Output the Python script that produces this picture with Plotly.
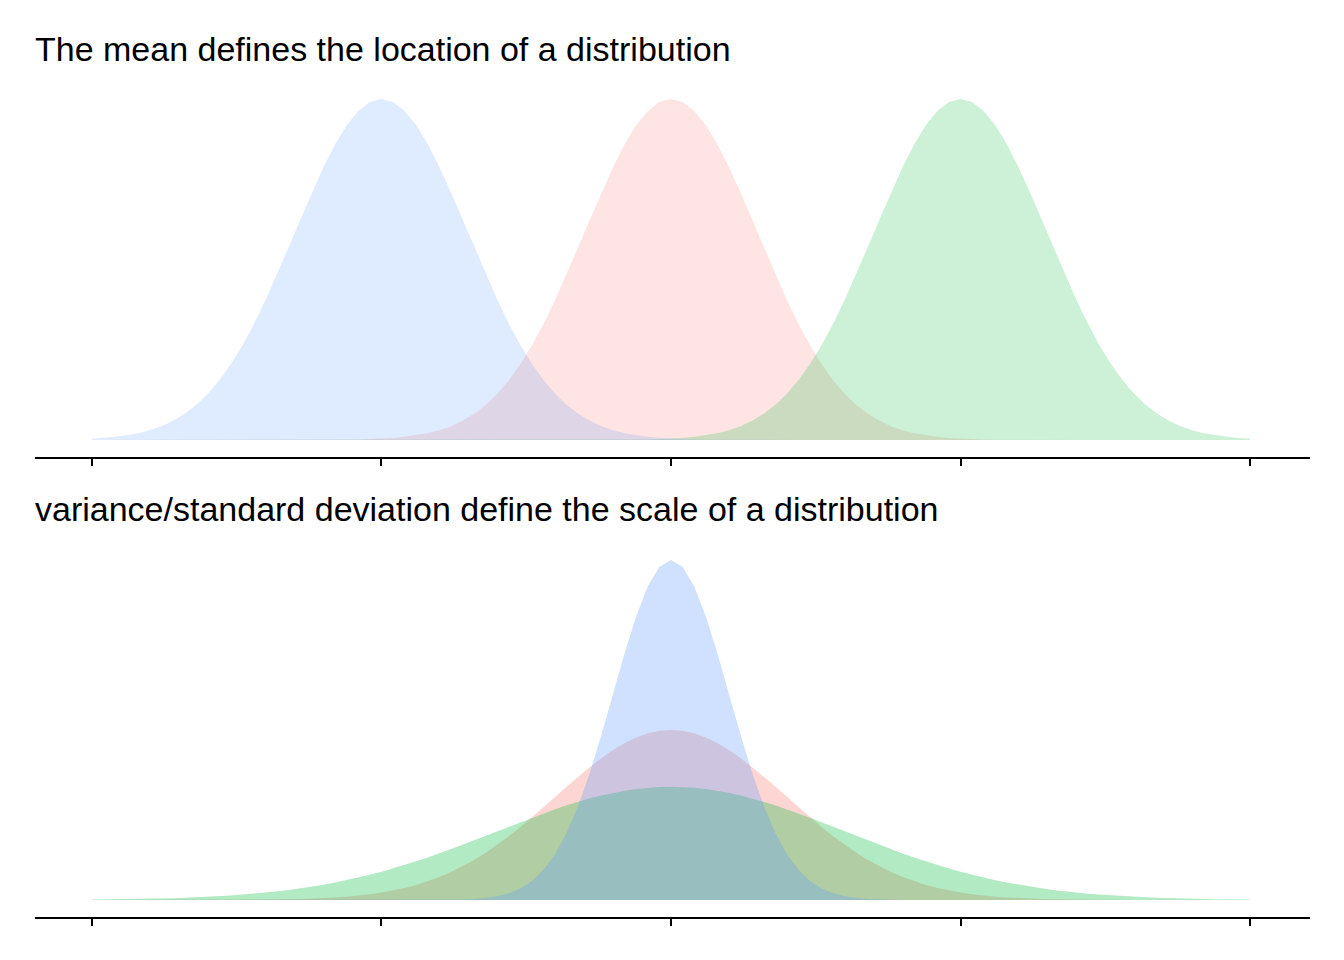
import numpy as np
import plotly.graph_objects as go

# ---- data ----
x_min, x_max, n_points = -10, 10, 101
tick_values = [-10, -5, 0, 5, 10]

top_title = "The mean defines the location of a distribution"
top_means = [-5, 0, 5]
top_sds = [1.5, 1.5, 1.5]
top_colors = ["rgba(97,156,255,0.2)", "rgba(248,118,109,0.2)", "rgba(0,186,56,0.2)"]

bottom_title = "variance/standard deviation define the scale of a distribution"
bottom_means = [0, 0, 0]
bottom_sds = [1, 2, 3]
bottom_colors = ["rgba(97,156,255,0.3)", "rgba(248,118,109,0.3)", "rgba(0,186,56,0.3)"]

draw_order = [1, 2, 0]  # red, green, blue


def dnorm(x, m, s):
    return np.exp(-0.5 * ((x - m) / s) ** 2) / (s * np.sqrt(2 * np.pi))


xs = np.linspace(x_min, x_max, n_points)

OFF = 8  # page body margin
W, H = 1344 - OFF, 960 - OFF
fig = go.Figure()

panels = [
    dict(means=top_means, sds=top_sds, colors=top_colors, xa="x", ya="y",
         top=82, bottom=457, title=top_title, title_y=49),
    dict(means=bottom_means, sds=bottom_sds, colors=bottom_colors, xa="x2", ya="y2",
         top=543, bottom=917, title=bottom_title, title_y=509),
]

for p in panels:
    peak = 0
    for i in draw_order:
        ys = dnorm(xs, p["means"][i], p["sds"][i])
        peak = max(peak, ys.max())
        fig.add_trace(go.Scatter(x=xs, y=ys, mode="lines", fill="tozeroy",
                                 fillcolor=p["colors"][i], line=dict(width=0, color=p["colors"][i]),
                                 xaxis=p["xa"], yaxis=p["ya"], showlegend=False,
                                 hoverinfo="skip"))
    p["peak"] = peak

axis_common = dict(range=[-10.984, 11.036], showgrid=False, zeroline=False, showline=True,
                   linecolor="black", linewidth=2, ticks="outside", ticklen=7,
                   tickwidth=2, tickcolor="black", tickvals=tick_values,
                   showticklabels=False)

layout = dict(width=W, height=H, margin=dict(l=35 - OFF, r=34, t=0, b=0),
              plot_bgcolor="white", paper_bgcolor="white",
              font=dict(family="Liberation Sans, Arial, sans-serif", color="black"))

for k, p in enumerate(panels):
    suffix = "" if k == 0 else "2"
    dom = [(H - (p["bottom"] - OFF)) / H, (H - (p["top"] - OFF)) / H]
    xax = dict(axis_common, domain=[0, 1], anchor="y" + suffix)
    yax = dict(domain=dom, range=[-0.05 * p["peak"], 1.05 * p["peak"]], visible=False,
               showgrid=False, zeroline=False, anchor="x" + suffix)
    layout["xaxis" + suffix] = xax
    layout["yaxis" + suffix] = yax

annotations = []
for p in panels:
    annotations.append(dict(text=p["title"], xref="paper", yref="paper", x=0,
                            y=(H - (p["title_y"] - OFF)) / H, xanchor="left", yanchor="middle",
                            showarrow=False, font=dict(size=34, color="black"),
                            xshift=-2))
layout["annotations"] = annotations

fig.update_layout(**layout)
fig.write_html("out.html")
